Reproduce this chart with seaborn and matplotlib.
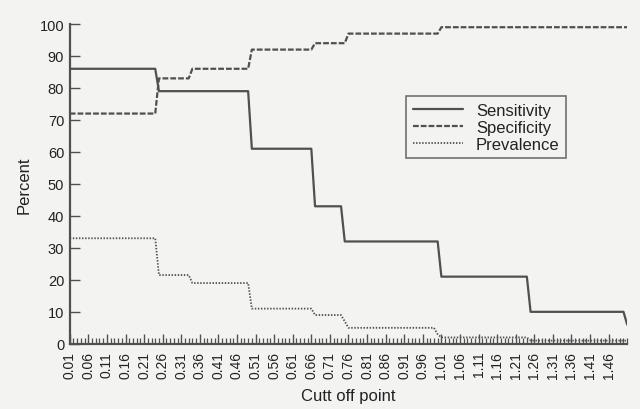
import numpy as np
import pandas as pd
import matplotlib
matplotlib.use("Agg")
import matplotlib.pyplot as plt
import seaborn as sns

# cut off points 0.01 .. 1.51
cutoffs = np.round(np.arange(1, 152) / 100, 2)
tick_values = cutoffs[:150:5]
tick_labels = ["%.2f" % c for c in tick_values]

# step levels and the last cut off point at which each level holds
sens_levels = [86, 79, 61, 43, 32, 21, 10, 6]
sens_ends = [0.24, 0.49, 0.66, 0.74, 1.00, 1.24, 1.50, 1.51]
spec_levels = [72, 83, 86, 92, 94, 97, 99]
spec_ends = [0.24, 0.33, 0.49, 0.66, 0.75, 1.00, 1.51]
prev_levels = [33, 21.5, 19, 11, 9, 7, 5, 3, 2, 1]
prev_ends = [0.24, 0.33, 0.49, 0.66, 0.74, 0.75, 0.99, 1.00, 1.24, 1.51]


def expand(levels, ends):
    idx = np.searchsorted(np.array(ends), cutoffs, side="left")
    return np.array(levels, dtype=float)[idx]


df = pd.DataFrame({
    "Cutoff": cutoffs,
    "Sensitivity": expand(sens_levels, sens_ends),
    "Specificity": expand(spec_levels, spec_ends),
    "Prevalence": expand(prev_levels, prev_ends),
})

sns.set_style("white")
plt.rcParams["font.family"] = ["Liberation Sans", "DejaVu Sans"]

bg = "#f3f4f2"
ink = "#505050"
fig = plt.figure(figsize=(6.4, 4.1), dpi=100, facecolor=bg)
ax = fig.add_axes([0.109, 0.159, 0.871, 0.78])
ax.set_facecolor(bg)

sns.lineplot(data=df, x="Cutoff", y="Sensitivity", ax=ax, color=ink,
             lw=1.6, label="Sensitivity")
sns.lineplot(data=df, x="Cutoff", y="Specificity", ax=ax, color=ink,
             lw=1.6, linestyle=(0, (2.6, 0.9)), label="Specificity")
sns.lineplot(data=df, x="Cutoff", y="Prevalence", ax=ax, color=ink,
             lw=1.3, linestyle=(0, (0.8, 0.9)), label="Prevalence")

ax.set_xlim(0.01, 1.51)
ax.set_ylim(0, 100)
ax.set_yticks(range(0, 101, 10))
ax.set_xticks(tick_values)
ax.set_xticklabels(tick_labels, rotation=90, fontsize=10)
ax.set_xticks(cutoffs, minor=True)
ax.tick_params(axis="y", labelsize=10.5, left=True, pad=4)
ax.tick_params(axis="x", which="both", bottom=True, pad=5)
ax.tick_params(axis="both", which="major", direction="in", length=7,
               width=1, color=ink, labelcolor="#222222")
ax.tick_params(axis="x", which="minor", direction="in", length=4,
               width=0.9, color=ink)

sns.despine(ax=ax)
for s in ["left", "bottom"]:
    ax.spines[s].set_color(ink)
    ax.spines[s].set_linewidth(1.6)

ax.set_xlabel("Cutt off point", fontsize=12, color="#222222", labelpad=7)
ax.set_ylabel("Percent", fontsize=12, color="#222222", labelpad=6)

leg = ax.legend(loc="upper left", bbox_to_anchor=(0.603, 0.775),
                fontsize=12, frameon=True, fancybox=False, handlelength=3.0,
                borderpad=0.4, labelspacing=0.12, handletextpad=0.8,
                borderaxespad=0)
leg.get_frame().set_edgecolor(ink)
leg.get_frame().set_linewidth(1.2)
leg.get_frame().set_facecolor(bg)
for t in leg.get_texts():
    t.set_color("#222222")

fig.savefig("out.png", dpi=100, facecolor=bg)
